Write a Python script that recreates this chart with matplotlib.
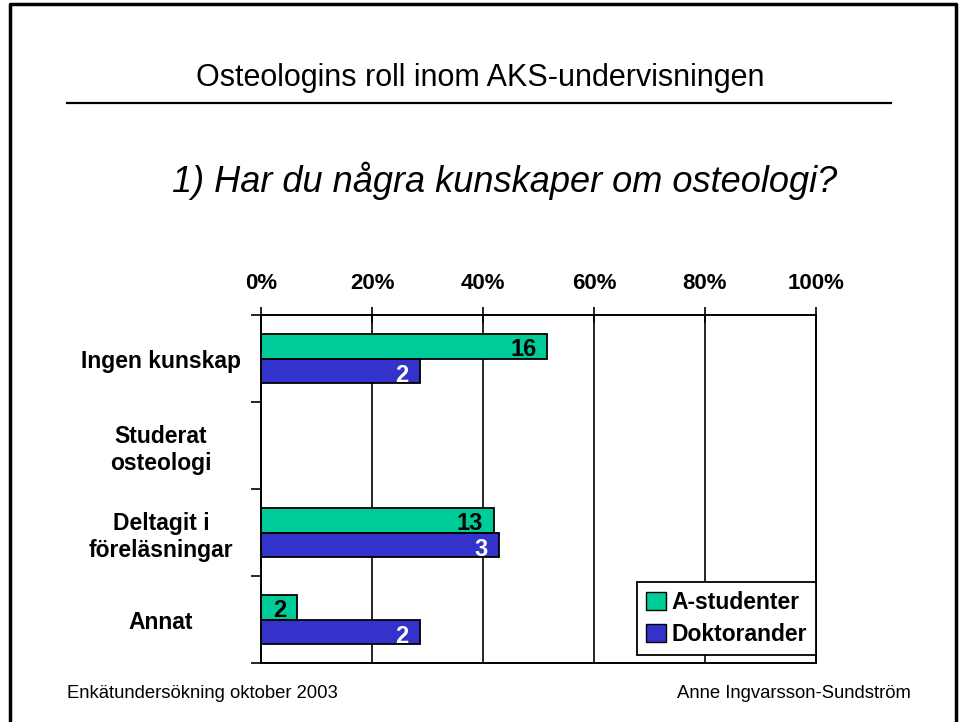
import numpy as np
import matplotlib.pyplot as plt
from matplotlib.lines import Line2D
from matplotlib.patches import Patch

plt.rcParams['font.family'] = ['Liberation Sans', 'DejaVu Sans']

kategorier = ['Ingen kunskap', 'Studerat\nosteologi', 'Deltagit i\nföreläsningar', 'Annat']
a_antal = [16, 0, 13, 2]
d_antal = [2, 0, 3, 2]
a_procent = [51.6, 0, 41.9, 6.5]
d_procent = [28.6, 0, 42.9, 28.6]
serier = ['A-studenter', 'Doktorander']

gron = '#00CC99'
bla = '#3333CC'

fig = plt.figure(figsize=(9.61, 7.22), dpi=100)
ax = fig.add_axes([0.2716, 0.0817, 0.5775, 0.482])

y = np.arange(len(kategorier))
h = 0.287
ax.barh(y - h / 2, a_procent, height=h, color=gron, edgecolor='black', linewidth=1.3)
ax.barh(y + h / 2, d_procent, height=h, color=bla, edgecolor='black', linewidth=1.3)

for i in range(len(kategorier)):
    if a_antal[i] > 0:
        ax.text(a_procent[i] - 2, y[i] - h / 2 + 0.04, str(a_antal[i]), ha='right', va='center',
                fontsize=17, fontweight='bold', color='black')
    if d_antal[i] > 0:
        ax.text(d_procent[i] - 2, y[i] + h / 2 + 0.05, str(d_antal[i]), ha='right', va='center',
                fontsize=17, fontweight='bold', color='white')

ax.set_xlim(0, 100)
ax.set_ylim(3.5, -0.5)
ax.set_xticks([0, 20, 40, 60, 80, 100])
ax.set_xticklabels(['0%', '20%', '40%', '60%', '80%', '100%'], fontsize=16, fontweight='bold')
ax.xaxis.tick_top()
ax.tick_params(axis='x', direction='inout', length=12, width=1.2, pad=9)
ax.grid(axis='x', color='black', linewidth=1.2)
ax.set_axisbelow(True)

ax.set_yticks(y)
ax.set_yticklabels(kategorier, fontsize=16.5, fontweight='bold', ha='center', multialignment='center')
ax.tick_params(axis='y', length=0, pad=72)
ax.set_yticks([-0.5, 0.5, 1.5, 2.5, 3.5], minor=True)
ax.tick_params(axis='y', which='minor', direction='out', length=7, width=1.2)

for s in ax.spines.values():
    s.set_color('black')
    s.set_linewidth(1.4)

handles = [Patch(facecolor=gron, edgecolor='black'), Patch(facecolor=bla, edgecolor='black')]
leg = ax.legend(handles, serier, loc='lower right', bbox_to_anchor=(1.0, 0.022),
                prop={'size': 16.5, 'weight': 'bold'}, frameon=True, fancybox=False,
                edgecolor='black', framealpha=1, handlelength=0.85, handleheight=0.85,
                handletextpad=0.25, borderpad=0.4, labelspacing=0.4, borderaxespad=0.0)
leg.get_frame().set_linewidth(1.3)

# slide text
fig.text(480 / 961, 1 - 78 / 722, 'Osteologins roll inom AKS-undervisningen', ha='center', va='center', fontsize=22)
fig.add_artist(Line2D([67 / 961, 891 / 961], [1 - 103 / 722] * 2, color='black', linewidth=1.6))
fig.text(505 / 961, 1 - 181 / 722, '1) Har du några kunskaper om osteologi?', ha='center', va='center',
         fontsize=26, style='italic')
fig.text(67 / 961, 1 - 694 / 722, 'Enkätundersökning oktober 2003', ha='left', va='center', fontsize=13.3)
fig.text(911 / 961, 1 - 694 / 722, 'Anne Ingvarsson-Sundström', ha='right', va='center', fontsize=13.3)

# ram
fig.add_artist(Line2D([9.5 / 961, 9.5 / 961, 956 / 961, 956 / 961],
                      [0, 1 - 4 / 722, 1 - 4 / 722, 0], color='black', linewidth=2.5))

fig.savefig('out.png', dpi=100)
